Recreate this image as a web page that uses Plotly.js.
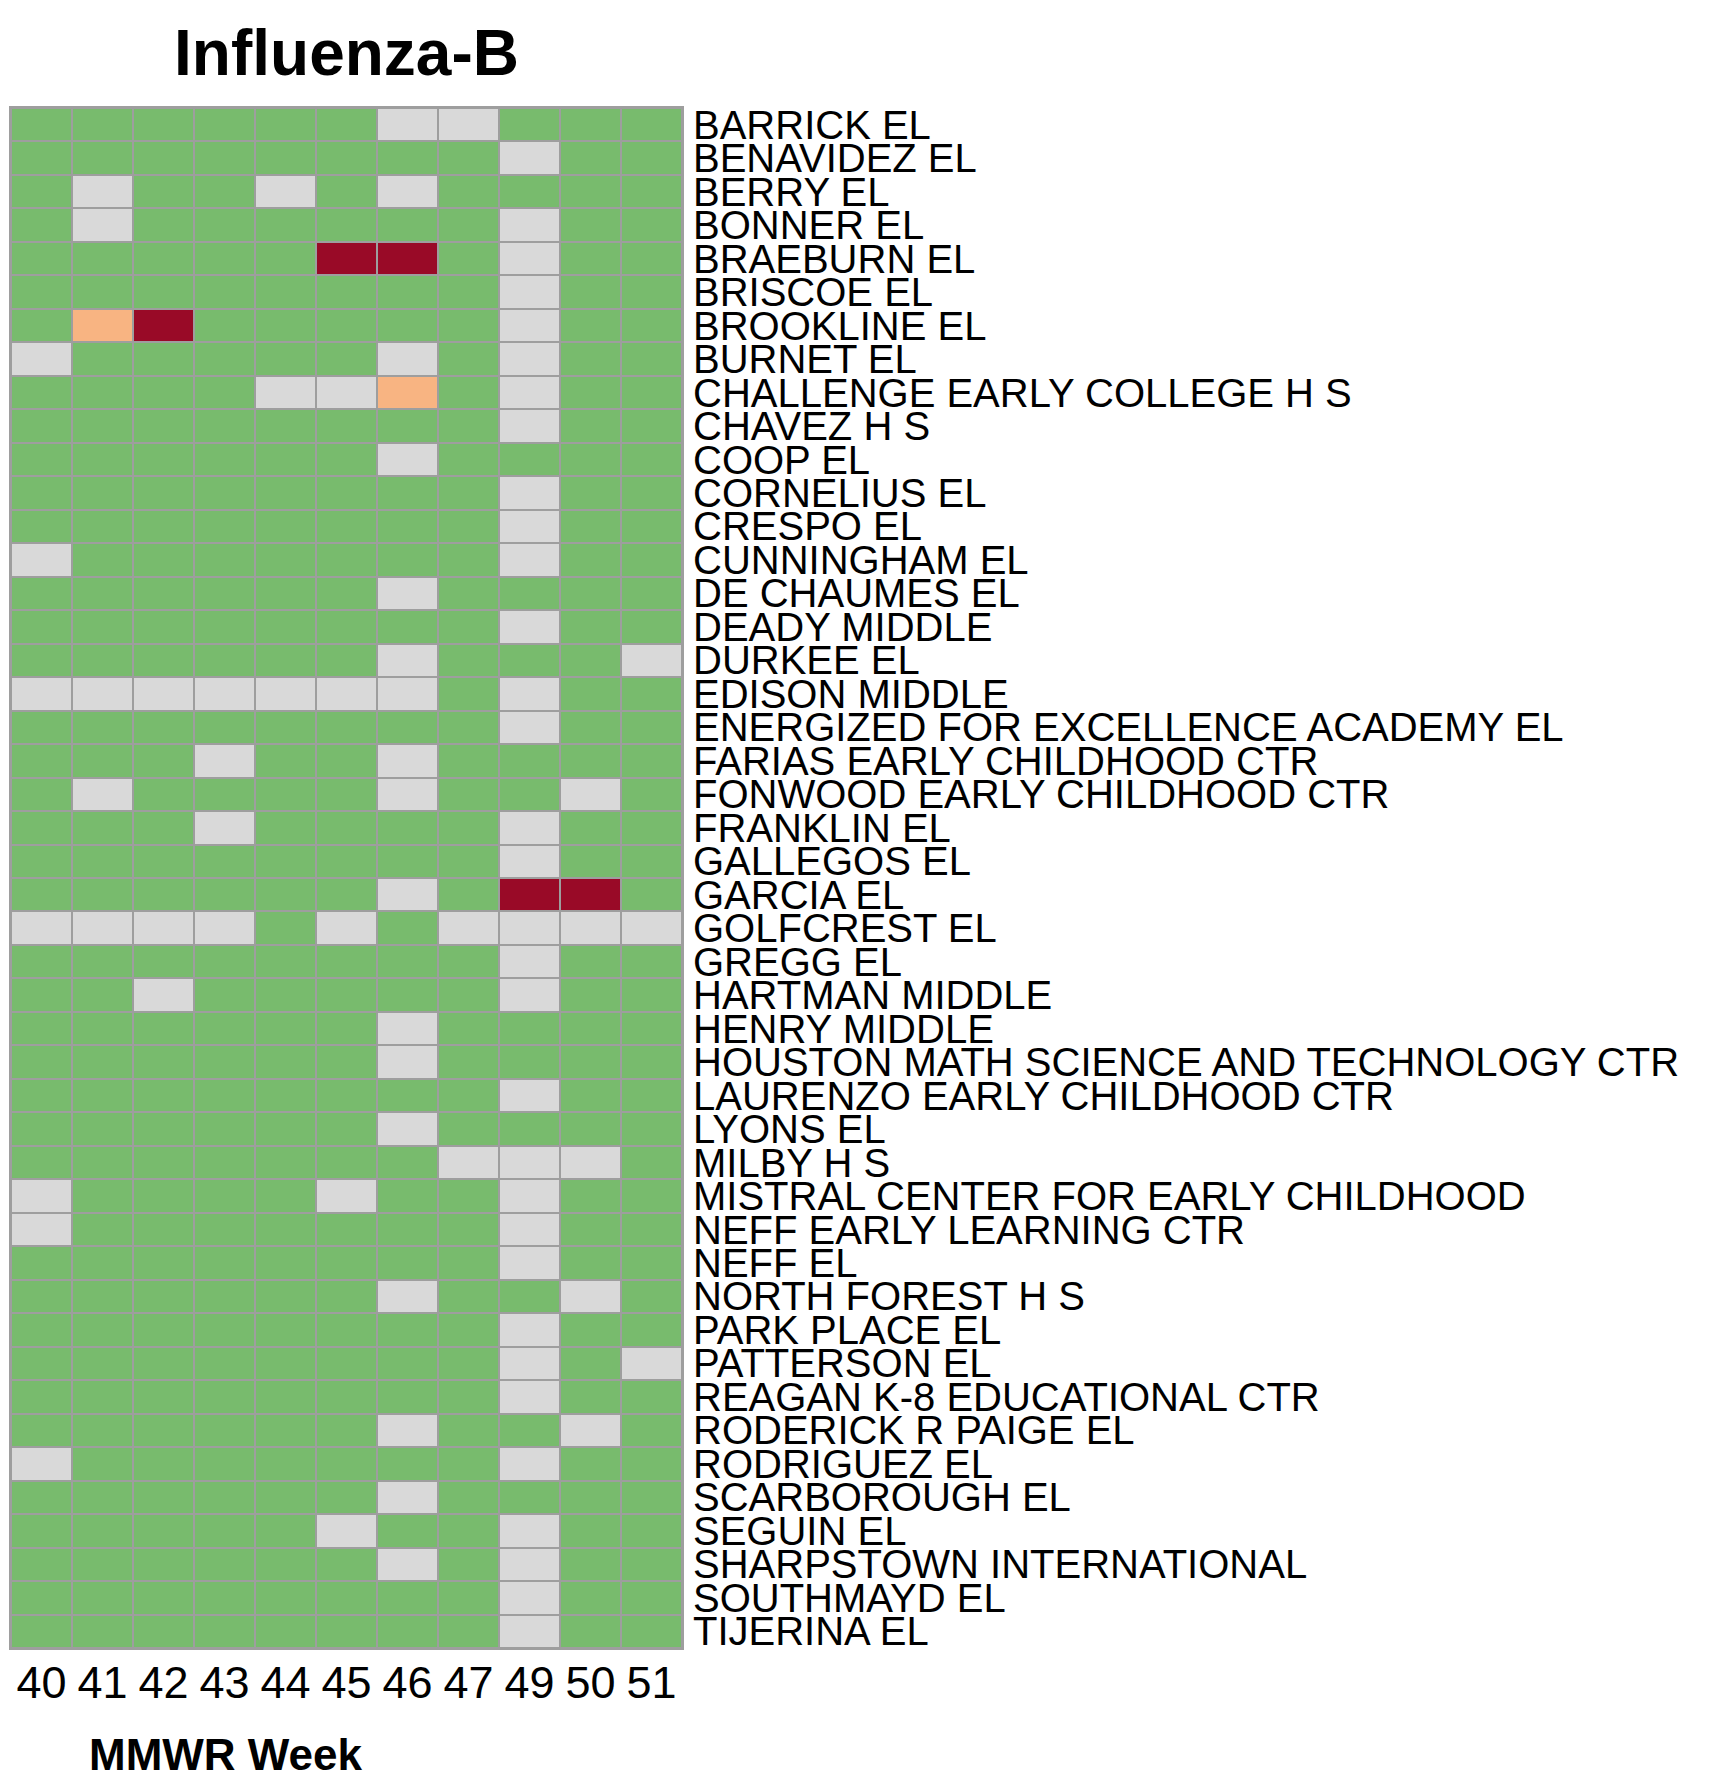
<!DOCTYPE html>
<html>
<head>
<meta charset="utf-8">
<script src="https://cdn.plot.ly/plotly-3.0.1.min.js"></script>
<style>
  html, body { margin: 0; padding: 0; background: #ffffff; }
  #chart { width: 1729px; height: 1780px; }
</style>
</head>
<body>
<div id="chart"></div>
<script>
// MMWR weeks (columns)
const weeks = ['40', '41', '42', '43', '44', '45', '46', '47', '49', '50', '51'];

// Schools (rows, top to bottom)
const schools = [
  'BARRICK EL', 'BENAVIDEZ EL', 'BERRY EL', 'BONNER EL', 'BRAEBURN EL',
  'BRISCOE EL', 'BROOKLINE EL', 'BURNET EL', 'CHALLENGE EARLY COLLEGE H S', 'CHAVEZ H S',
  'COOP EL', 'CORNELIUS EL', 'CRESPO EL', 'CUNNINGHAM EL', 'DE CHAUMES EL',
  'DEADY MIDDLE', 'DURKEE EL', 'EDISON MIDDLE', 'ENERGIZED FOR EXCELLENCE ACADEMY EL', 'FARIAS EARLY CHILDHOOD CTR',
  'FONWOOD EARLY CHILDHOOD CTR', 'FRANKLIN EL', 'GALLEGOS EL', 'GARCIA EL', 'GOLFCREST EL',
  'GREGG EL', 'HARTMAN MIDDLE', 'HENRY MIDDLE', 'HOUSTON MATH SCIENCE AND TECHNOLOGY CTR', 'LAURENZO EARLY CHILDHOOD CTR',
  'LYONS EL', 'MILBY H S', 'MISTRAL CENTER FOR EARLY CHILDHOOD', 'NEFF EARLY LEARNING CTR', 'NEFF EL',
  'NORTH FOREST H S', 'PARK PLACE EL', 'PATTERSON EL', 'REAGAN K-8 EDUCATIONAL CTR', 'RODERICK R PAIGE EL',
  'RODRIGUEZ EL', 'SCARBOROUGH EL', 'SEGUIN EL', 'SHARPSTOWN INTERNATIONAL', 'SOUTHMAYD EL',
  'TIJERINA EL'
];

// Activity level per school and week: 0 = no report, 1 = minimal, 2 = moderate, 3 = high
const levels = [
  [1,1,1,1,1,1,0,0,1,1,1], // BARRICK EL
  [1,1,1,1,1,1,1,1,0,1,1], // BENAVIDEZ EL
  [1,0,1,1,0,1,0,1,1,1,1], // BERRY EL
  [1,0,1,1,1,1,1,1,0,1,1], // BONNER EL
  [1,1,1,1,1,3,3,1,0,1,1], // BRAEBURN EL
  [1,1,1,1,1,1,1,1,0,1,1], // BRISCOE EL
  [1,2,3,1,1,1,1,1,0,1,1], // BROOKLINE EL
  [0,1,1,1,1,1,0,1,0,1,1], // BURNET EL
  [1,1,1,1,0,0,2,1,0,1,1], // CHALLENGE EARLY COLLEGE H S
  [1,1,1,1,1,1,1,1,0,1,1], // CHAVEZ H S
  [1,1,1,1,1,1,0,1,1,1,1], // COOP EL
  [1,1,1,1,1,1,1,1,0,1,1], // CORNELIUS EL
  [1,1,1,1,1,1,1,1,0,1,1], // CRESPO EL
  [0,1,1,1,1,1,1,1,0,1,1], // CUNNINGHAM EL
  [1,1,1,1,1,1,0,1,1,1,1], // DE CHAUMES EL
  [1,1,1,1,1,1,1,1,0,1,1], // DEADY MIDDLE
  [1,1,1,1,1,1,0,1,1,1,0], // DURKEE EL
  [0,0,0,0,0,0,0,1,0,1,1], // EDISON MIDDLE
  [1,1,1,1,1,1,1,1,0,1,1], // ENERGIZED FOR EXCELLENCE ACADEMY EL
  [1,1,1,0,1,1,0,1,1,1,1], // FARIAS EARLY CHILDHOOD CTR
  [1,0,1,1,1,1,0,1,1,0,1], // FONWOOD EARLY CHILDHOOD CTR
  [1,1,1,0,1,1,1,1,0,1,1], // FRANKLIN EL
  [1,1,1,1,1,1,1,1,0,1,1], // GALLEGOS EL
  [1,1,1,1,1,1,0,1,3,3,1], // GARCIA EL
  [0,0,0,0,1,0,1,0,0,0,0], // GOLFCREST EL
  [1,1,1,1,1,1,1,1,0,1,1], // GREGG EL
  [1,1,0,1,1,1,1,1,0,1,1], // HARTMAN MIDDLE
  [1,1,1,1,1,1,0,1,1,1,1], // HENRY MIDDLE
  [1,1,1,1,1,1,0,1,1,1,1], // HOUSTON MATH SCIENCE AND TECHNOLOGY CTR
  [1,1,1,1,1,1,1,1,0,1,1], // LAURENZO EARLY CHILDHOOD CTR
  [1,1,1,1,1,1,0,1,1,1,1], // LYONS EL
  [1,1,1,1,1,1,1,0,0,0,1], // MILBY H S
  [0,1,1,1,1,0,1,1,0,1,1], // MISTRAL CENTER FOR EARLY CHILDHOOD
  [0,1,1,1,1,1,1,1,0,1,1], // NEFF EARLY LEARNING CTR
  [1,1,1,1,1,1,1,1,0,1,1], // NEFF EL
  [1,1,1,1,1,1,0,1,1,0,1], // NORTH FOREST H S
  [1,1,1,1,1,1,1,1,0,1,1], // PARK PLACE EL
  [1,1,1,1,1,1,1,1,0,1,0], // PATTERSON EL
  [1,1,1,1,1,1,1,1,0,1,1], // REAGAN K-8 EDUCATIONAL CTR
  [1,1,1,1,1,1,0,1,1,0,1], // RODERICK R PAIGE EL
  [0,1,1,1,1,1,1,1,0,1,1], // RODRIGUEZ EL
  [1,1,1,1,1,1,0,1,1,1,1], // SCARBOROUGH EL
  [1,1,1,1,1,0,1,1,0,1,1], // SEGUIN EL
  [1,1,1,1,1,1,0,1,0,1,1], // SHARPSTOWN INTERNATIONAL
  [1,1,1,1,1,1,1,1,0,1,1], // SOUTHMAYD EL
  [1,1,1,1,1,1,1,1,0,1,1]  // TIJERINA EL
];

// Level colours: no report, minimal, moderate, high
const levelColors = ['#D9D9D9', '#78BB6D', '#F8B482', '#990A27'];

const W = 1729, H = 1780;
const plotL = 11, plotR = 682, plotT = 108, plotB = 1648;
const FONT = '"Liberation Sans", Arial, Helvetica, sans-serif';

const colorscale = levelColors.map((c, i) => [i / (levelColors.length - 1), c]);

const trace = {
  type: 'heatmap',
  x: weeks,
  y: schools,
  z: levels,
  zmin: 0,
  zmax: 3,
  colorscale: colorscale,
  showscale: false,
  xgap: 2,
  ygap: 2,
  hoverinfo: 'x+y+z'
};

const layout = {
  width: W,
  height: H,
  margin: { l: plotL, r: W - plotR, t: plotT, b: H - plotB, pad: 0 },
  paper_bgcolor: '#ffffff',
  plot_bgcolor: '#9E9E9E',
  font: { family: FONT, color: '#000000' },
  title: {
    text: '<b>Influenza-B</b>',
    font: { family: FONT, size: 64, color: '#000000' },
    x: 0.5, xref: 'paper', xanchor: 'center',
    y: 1 - 53 / H, yref: 'container', yanchor: 'middle'
  },
  xaxis: {
    type: 'category',
    categoryorder: 'array',
    categoryarray: weeks,
    tickmode: 'array',
    tickvals: weeks,
    ticktext: weeks,
    tickfont: { family: FONT, size: 45, color: '#000000' },
    ticks: '',
    showgrid: false,
    zeroline: false,
    showline: true,
    mirror: true,
    linecolor: '#9E9E9E',
    linewidth: 2,
    ticklabelstandoff: -6,
    automargin: false,
    fixedrange: true
  },
  yaxis: {
    type: 'category',
    categoryorder: 'array',
    categoryarray: schools,
    tickmode: 'array',
    tickvals: schools,
    ticktext: schools,
    autorange: 'reversed',
    side: 'right',
    tickfont: { family: FONT, size: 40, color: '#000000' },
    ticks: '',
    showgrid: false,
    zeroline: false,
    showline: true,
    mirror: true,
    linecolor: '#9E9E9E',
    linewidth: 2,
    ticklabelstandoff: 1,
    automargin: false,
    fixedrange: true
  },
  annotations: [{
    text: '<b>MMWR Week</b>',
    xref: 'paper', yref: 'paper',
    x: (226 - plotL) / (plotR - plotL),
    y: (plotB - 1754) / (plotB - plotT),
    xanchor: 'center', yanchor: 'middle',
    showarrow: false,
    font: { family: FONT, size: 44, color: '#000000' }
  }],
  showlegend: false
};

Plotly.newPlot('chart', [trace], layout, { displayModeBar: false, staticPlot: true });
</script>
</body>
</html>
